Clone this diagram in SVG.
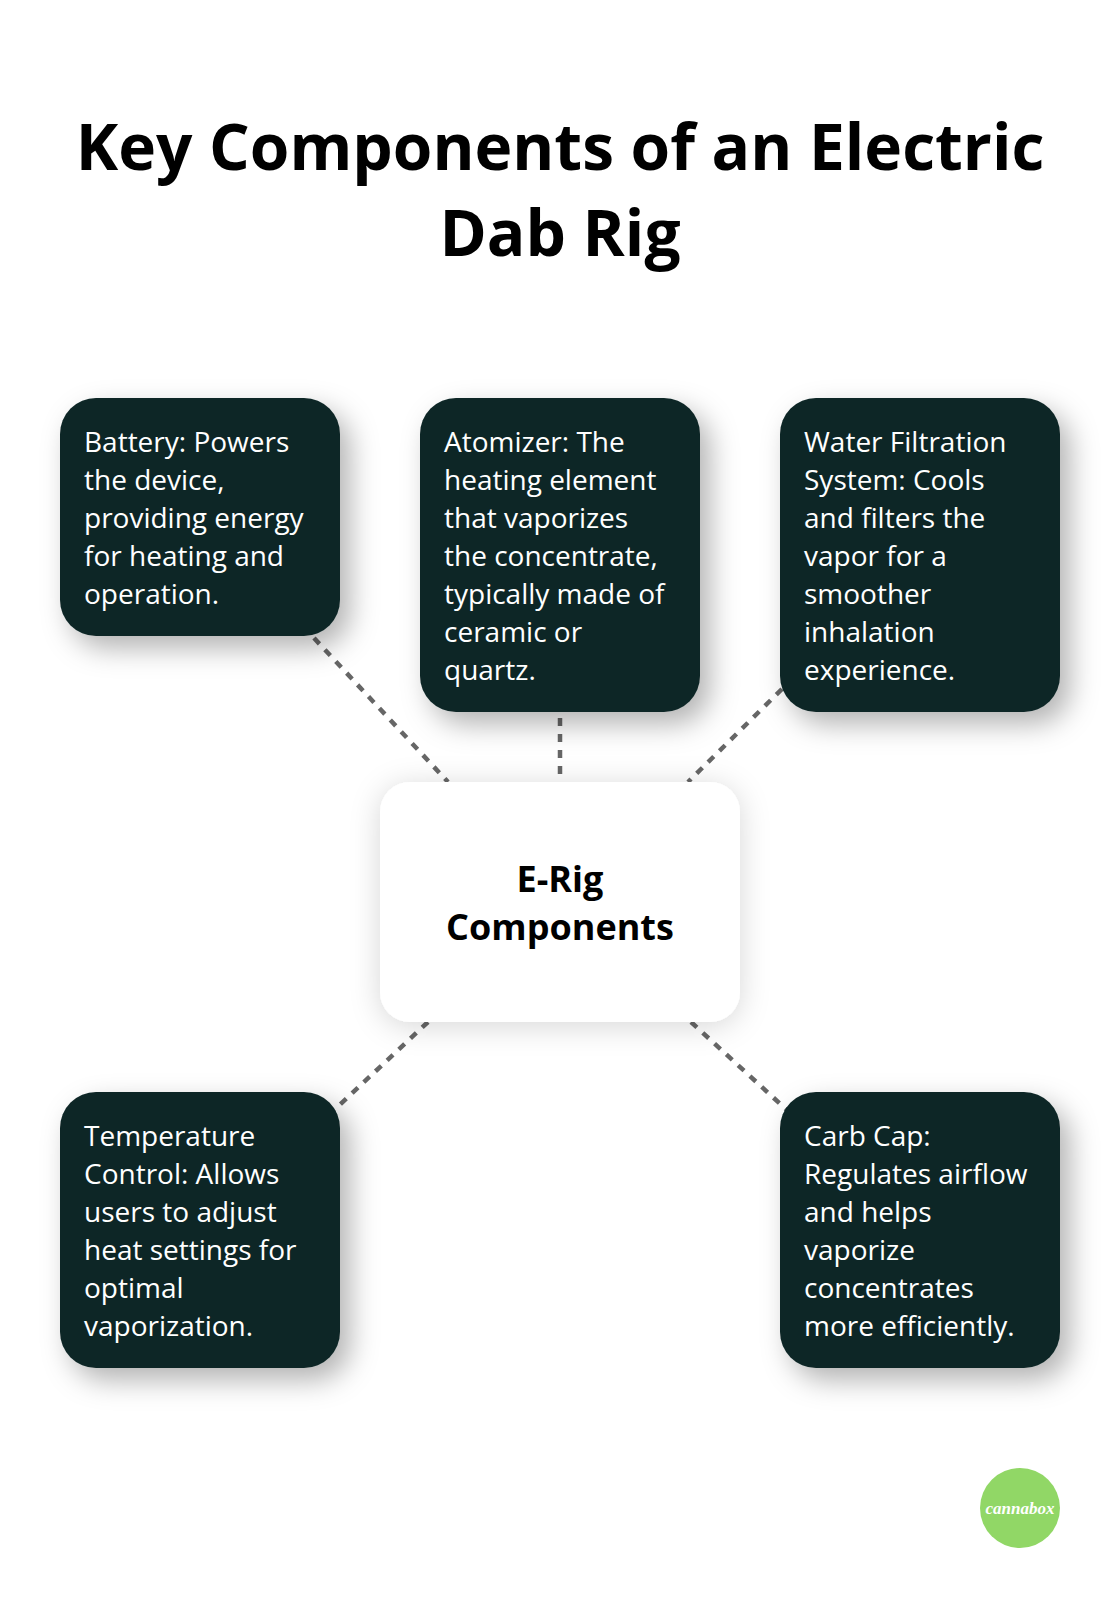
<svg xmlns="http://www.w3.org/2000/svg" width="1120" height="1608" viewBox="0 0 1120 1608">
<style>
text{font-family:"Open Sans","Noto Sans",sans-serif}
.t{font-size:64px;font-weight:700;fill:#000;text-anchor:middle}
.c{font-size:36px;font-weight:700;fill:#000;text-anchor:middle}
.b{font-size:28px;fill:#fff}
.box{fill:#102727}
.conn{fill:none;stroke:#666;stroke-width:4.500;stroke-dasharray:8 8}
.logo{font-family:"Liberation Serif",serif;font-style:italic;font-weight:700;font-size:17px;fill:#fff;text-anchor:middle}
</style>
<defs>
<filter id="s1" x="-30%" y="-30%" width="160%" height="160%"><feDropShadow dx="10" dy="12" stdDeviation="14" flood-color="#000" flood-opacity="0.3"/></filter>
<filter id="s2" x="-30%" y="-30%" width="160%" height="160%"><feDropShadow dx="0" dy="4" stdDeviation="15" flood-color="#000" flood-opacity="0.16"/></filter>
</defs>
<rect width="1120" height="1608" fill="#fff"/>
<g id="title"><text class="t" x="560" y="170">Key Components of an Electric</text><text class="t" x="560" y="256">Dab Rig</text></g>
<g id="connectors">
<path class="conn" d="M314 638L448 782"/>
<path class="conn" d="M560 718V782"/>
<path class="conn" d="M782 689L688 782"/>
<path class="conn" d="M428 1022L332 1112"/>
<path class="conn" d="M691 1022L789 1112"/>
</g>
<g id="center"><rect x="380" y="782" width="360" height="240" rx="30" fill="#fff" filter="url(#s2)"/><text class="c" x="560" y="892">E-Rig</text><text class="c" x="560" y="940">Components</text></g>
<g id="battery"><rect class="box" x="60" y="398" width="280" height="238" rx="36" filter="url(#s1)"/>
<text class="b" x="84" y="452">Battery: Powers</text><text class="b" x="84" y="490">the device,</text><text class="b" x="84" y="528">providing energy</text><text class="b" x="84" y="566">for heating and</text><text class="b" x="84" y="604">operation.</text></g>
<g id="atomizer"><rect class="box" x="420" y="398" width="280" height="314" rx="36" filter="url(#s1)"/>
<text class="b" x="444" y="452">Atomizer: The</text><text class="b" x="444" y="490">heating element</text><text class="b" x="444" y="528">that vaporizes</text><text class="b" x="444" y="566">the concentrate,</text><text class="b" x="444" y="604">typically made of</text><text class="b" x="444" y="642">ceramic or</text><text class="b" x="444" y="680">quartz.</text></g>
<g id="water"><rect class="box" x="780" y="398" width="280" height="314" rx="36" filter="url(#s1)"/>
<text class="b" x="804" y="452">Water Filtration</text><text class="b" x="804" y="490">System: Cools</text><text class="b" x="804" y="528">and filters the</text><text class="b" x="804" y="566">vapor for a</text><text class="b" x="804" y="604">smoother</text><text class="b" x="804" y="642">inhalation</text><text class="b" x="804" y="680">experience.</text></g>
<g id="temperature"><rect class="box" x="60" y="1092" width="280" height="276" rx="36" filter="url(#s1)"/>
<text class="b" x="84" y="1146">Temperature</text><text class="b" x="84" y="1184">Control: Allows</text><text class="b" x="84" y="1222">users to adjust</text><text class="b" x="84" y="1260">heat settings for</text><text class="b" x="84" y="1298">optimal</text><text class="b" x="84" y="1336">vaporization.</text></g>
<g id="carb"><rect class="box" x="780" y="1092" width="280" height="276" rx="36" filter="url(#s1)"/>
<text class="b" x="804" y="1146">Carb Cap:</text><text class="b" x="804" y="1184">Regulates airflow</text><text class="b" x="804" y="1222">and helps</text><text class="b" x="804" y="1260">vaporize</text><text class="b" x="804" y="1298">concentrates</text><text class="b" x="804" y="1336">more efficiently.</text></g>
<g id="logo"><circle cx="1020" cy="1508" r="40" fill="#91d766"/><text class="logo" x="1020" y="1514">cannabox</text></g>
</svg>
